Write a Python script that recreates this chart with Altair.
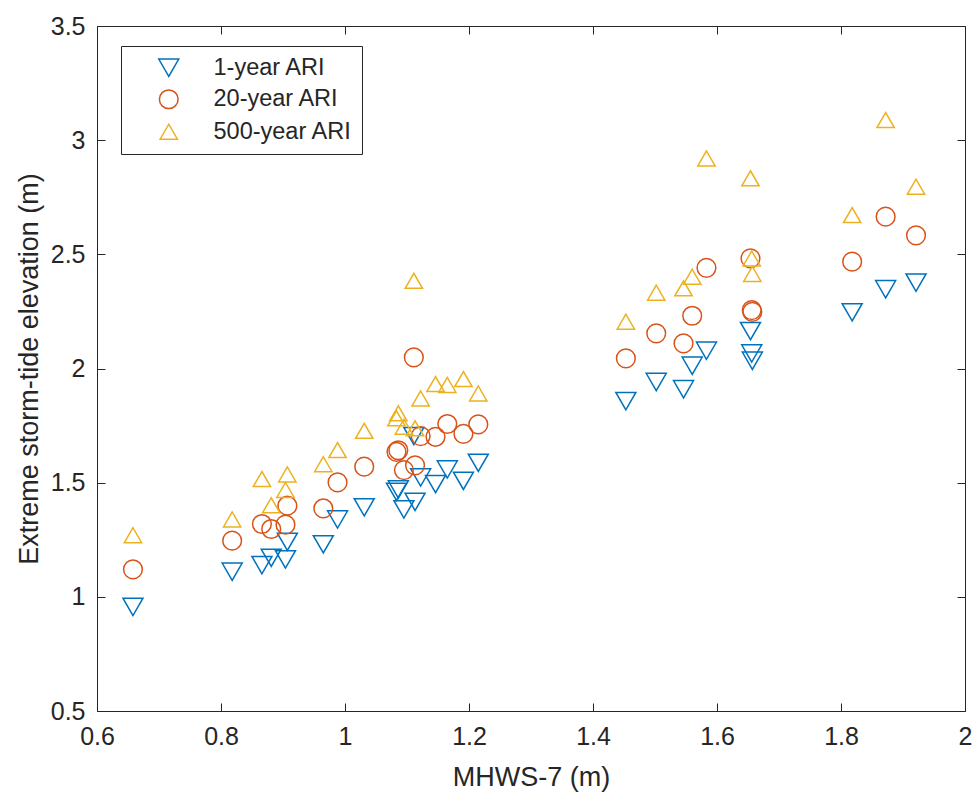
import altair as alt
import pandas as pd

# MHWS-7 (m) for each site
mhws = [0.658, 0.818, 0.866, 0.881, 0.904, 0.907, 0.965, 0.988, 1.031, 1.083,
        1.086, 1.095, 1.111, 1.113, 1.122, 1.146, 1.165, 1.191, 1.215, 1.453,
        1.502, 1.546, 1.560, 1.583, 1.654, 1.656, 1.657, 1.818, 1.872, 1.921]
# Extreme storm-tide elevations (m)
ari1 = [0.956, 1.110, 1.139, 1.171, 1.164, 1.241, 1.230, 1.339, 1.392, 1.460,
        1.470, 1.383, 1.704, 1.416, 1.523, 1.494, 1.558, 1.508, 1.587, 1.857,
        1.941, 1.909, 2.012, 2.078, 2.164, 2.066, 2.034, 2.246, 2.347, 2.376]
ari20 = [1.120, 1.246, 1.319, 1.297, 1.316, 1.399, 1.387, 1.501, 1.570, 1.635,
         1.642, 1.555, 2.049, 1.576, 1.704, 1.701, 1.757, 1.714, 1.755, 2.044,
         2.154, 2.110, 2.231, 2.441, 2.482, 2.256, 2.248, 2.468, 2.665, 2.583]
ari500 = [1.270, 1.339, 1.516, 1.401, 1.468, 1.536, 1.581, 1.643, 1.727, 1.782,
          1.804, 1.745, 2.384, 1.738, 1.869, 1.932, 1.928, 1.954, 1.891, 2.205,
          2.332, 2.351, 2.402, 2.920, 2.833, 2.482, 2.414, 2.672, 3.088, 2.796]

series_names = ["1-year ARI", "20-year ARI", "500-year ARI"]
series_colors = ["#0072BD", "#D95319", "#EDB120"]
series_shapes = ["triangle-down", "circle", "triangle-up"]
series_sizes = [400, 300, 400]

x_ticks = [0.6, 0.8, 1.0, 1.2, 1.4, 1.6, 1.8, 2.0]
y_ticks = [0.5, 1.0, 1.5, 2.0, 2.5, 3.0, 3.5]

rows = []
for name, vals in zip(series_names, [ari1, ari20, ari500]):
    for xv, yv in zip(mhws, vals):
        rows.append({"x": xv, "y": yv, "series": name})
df = pd.DataFrame(rows)

FONT = "Liberation Sans"
TXT = "#262626"
W, H = 868, 685

xscale = alt.Scale(domain=[0.6, 2.0], nice=False, zero=False)
yscale = alt.Scale(domain=[0.5, 3.5], nice=False, zero=False)

base = alt.Chart(df)

points = base.mark_point(filled=False, strokeWidth=1.5, opacity=1).encode(
    x=alt.X("x:Q", scale=xscale, axis=alt.Axis(
        orient="bottom", values=x_ticks, format="~g", offset=-8, tickSize=8,
        domain=False, grid=False, labelFontSize=25, labelPadding=13,
        labelFont=FONT, labelColor=TXT, tickColor=TXT, labelFlush=False,
        labelOverlap=False, title="MHWS-7 (m)", titleFont=FONT,
        titleFontSize=27, titleFontWeight="normal", titleColor=TXT,
        titleX=W / 2, titleY=82, titleBaseline="alphabetic")),
    y=alt.Y("y:Q", scale=yscale, axis=alt.Axis(
        orient="left", values=y_ticks, format="~g", offset=-8, tickSize=8,
        domain=False, grid=False, labelFontSize=25, labelPadding=12,
        labelFont=FONT, labelColor=TXT, tickColor=TXT, labelFlush=False,
        labelOverlap=False, title="Extreme storm-tide elevation (m)",
        titleFont=FONT, titleFontSize=27, titleFontWeight="normal",
        titleColor=TXT, titleX=-68, titleY=H / 2, titleAngle=-90,
        titleBaseline="alphabetic")),
    color=alt.Color("series:N", sort=series_names,
                    scale=alt.Scale(domain=series_names, range=series_colors),
                    legend=alt.Legend(
                        orient="none", legendX=24, legendY=20, title=None,
                        fillColor="white", strokeColor=TXT, padding=10,
                        symbolOffset=26, labelOffset=33, labelFontSize=23.5,
                        labelFont=FONT, labelColor=TXT, rowPadding=6.5,
                        symbolStrokeWidth=1.5, symbolSize=380,
                        symbolFillColor="transparent")),
    shape=alt.Shape("series:N", sort=series_names,
                    scale=alt.Scale(domain=series_names, range=series_shapes)),
    size=alt.Size("series:N", sort=series_names,
                  scale=alt.Scale(domain=series_names, range=series_sizes),
                  legend=None),
    order=alt.Order("series:N"),
)

mirror = base.mark_point(opacity=0).encode(
    x=alt.X("x:Q", scale=xscale, axis=alt.Axis(
        orient="top", values=x_ticks, offset=-8, tickSize=8, labels=False,
        domain=False, grid=False, tickColor=TXT, title=None)),
    y=alt.Y("y:Q", scale=yscale, axis=alt.Axis(
        orient="right", values=y_ticks, offset=-8, tickSize=8, labels=False,
        domain=False, grid=False, tickColor=TXT, title=None)),
)

chart = alt.layer(points, mirror).resolve_axis(
    x="independent", y="independent"
).properties(
    width=W, height=H,
    autosize=alt.AutoSizeParams(type="none"),
    padding={"left": 97, "top": 26, "right": 11, "bottom": 81},
    background="white",
).configure_view(stroke=TXT, strokeWidth=1)

chart.save("out.html", embed_options={"renderer": "svg", "actions": False})
